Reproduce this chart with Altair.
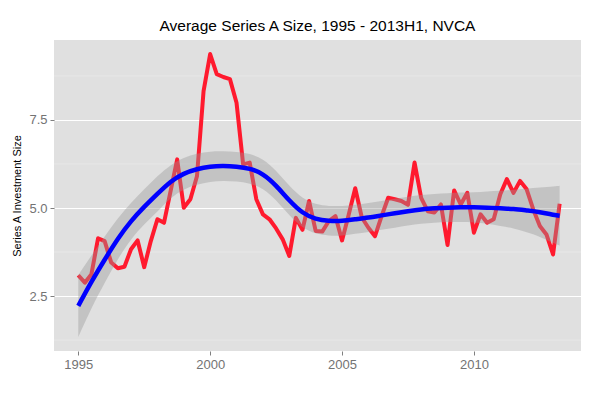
import altair as alt
import pandas as pd

# Quarterly average Series A size (red line), Q1 1995 .. Q2 2013
start_year = 1995
red_values = [3.09, 2.88, 3.12, 4.14, 4.06, 3.45, 3.29, 3.33, 3.83, 4.08,
              3.32, 4.06, 4.68, 4.58, 5.48, 6.38, 5.01, 5.25, 5.90, 8.32,
              9.37, 8.80, 8.72, 8.66, 7.99, 6.24, 6.29, 5.25, 4.82, 4.68,
              4.42, 4.11, 3.64, 4.72, 4.38, 5.20, 4.35, 4.33, 4.63, 4.77,
              4.08, 4.80, 5.56, 4.73, 4.44, 4.20, 4.77, 5.29, 5.25, 5.20,
              5.09, 6.29, 5.29, 4.91, 4.87, 5.10, 3.95, 5.50, 5.10, 5.43,
              4.30, 4.82, 4.58, 4.68, 5.39, 5.82, 5.43, 5.77, 5.53, 4.96,
              4.49, 4.25, 3.68, 5.12]
red_years = [start_year + 0.25 * i for i in range(len(red_values))]

# Smoothed trend (blue) and its confidence band (grey)
smooth_x = [1995.0, 1995.5, 1996.0, 1996.5, 1997.0, 1997.5, 1998.0, 1998.5,
            1999.0, 1999.5, 2000.0, 2000.5, 2001.0, 2001.5, 2002.0, 2002.5,
            2003.0, 2003.5, 2004.0, 2004.5, 2005.0, 2005.5, 2006.0, 2006.5,
            2007.0, 2007.5, 2008.0, 2008.5, 2009.0, 2009.5, 2010.0, 2010.5,
            2011.0, 2011.5, 2012.0, 2012.5, 2013.0, 2013.25]
smooth_y = [2.22, 2.90, 3.53, 4.12, 4.62, 5.03, 5.40, 5.74,
            5.97, 6.10, 6.17, 6.19, 6.17, 6.11, 5.95, 5.63,
            5.22, 4.88, 4.70, 4.64, 4.64, 4.68, 4.73, 4.79,
            4.85, 4.91, 4.96, 4.99, 5.01, 5.02, 5.02, 5.01,
            4.99, 4.97, 4.93, 4.88, 4.81, 4.78]
smooth_lo = [1.34, 2.15, 2.87, 3.54, 4.10, 4.53, 4.90, 5.27,
             5.52, 5.66, 5.74, 5.77, 5.75, 5.69, 5.53, 5.21,
             4.80, 4.46, 4.28, 4.22, 4.22, 4.27, 4.32, 4.38,
             4.44, 4.50, 4.55, 4.58, 4.60, 4.60, 4.59, 4.55,
             4.49, 4.42, 4.31, 4.18, 4.01, 3.93]
smooth_hi = [3.10, 3.65, 4.19, 4.70, 5.14, 5.53, 5.90, 6.21,
             6.42, 6.54, 6.60, 6.61, 6.59, 6.53, 6.37, 6.05,
             5.64, 5.30, 5.12, 5.06, 5.06, 5.09, 5.14, 5.20,
             5.26, 5.32, 5.37, 5.40, 5.42, 5.44, 5.45, 5.47,
             5.49, 5.52, 5.55, 5.58, 5.61, 5.63]

x_ticks = [1995, 2000, 2005, 2010]
y_ticks = [2.5, 5.0, 7.5]
y_minor = [1.25, 3.75, 6.25, 8.75]

x_domain = [1994.08, 2014.06]
y_domain = [0.94, 9.77]

red_df = pd.DataFrame({"year": red_years, "value": red_values})
smooth_df = pd.DataFrame({"year": smooth_x, "fit": smooth_y,
                          "lo": smooth_lo, "hi": smooth_hi})
minor_df = pd.DataFrame({"v": y_minor})

FONT = "Liberation Sans"

xscale = alt.Scale(domain=x_domain, nice=False, zero=False)
yscale = alt.Scale(domain=y_domain, nice=False, zero=False)

xaxis = alt.Axis(values=x_ticks, format="d", title=None, grid=False,
                 domain=False, tickColor="#7F7F7F", tickSize=4,
                 labelColor="#737373", labelFontSize=13, labelFont=FONT,
                 labelPadding=3)
yaxis = alt.Axis(values=y_ticks, format=".1f", title="Series A Investment Size",
                 grid=True, gridColor="#FFFFFF", gridWidth=1.2,
                 domain=False, tickColor="#7F7F7F", tickSize=4,
                 labelColor="#737373", labelFontSize=13, labelFont=FONT,
                 labelPadding=3, titleFont=FONT, titleFontSize=11,
                 titleFontWeight="normal", titleColor="#000000",
                 titlePadding=6)

minor = alt.Chart(minor_df).mark_rule(color="#EAEAEA", strokeWidth=0.8).encode(
    y=alt.Y("v:Q", scale=yscale, axis=yaxis)
)

red = alt.Chart(red_df).mark_line(color="#FF1A2E", strokeWidth=4,
                                  strokeJoin="round").encode(
    x=alt.X("year:Q", scale=xscale, axis=xaxis),
    y=alt.Y("value:Q", scale=yscale, axis=yaxis),
)

band = alt.Chart(smooth_df).mark_area(color="#999999", opacity=0.4,
                                      interpolate="natural").encode(
    x=alt.X("year:Q", scale=xscale, axis=xaxis),
    y=alt.Y("lo:Q", scale=yscale, axis=yaxis),
    y2="hi:Q",
)

blue = alt.Chart(smooth_df).mark_line(color="#0000FF", strokeWidth=4.5,
                                      interpolate="natural").encode(
    x=alt.X("year:Q", scale=xscale, axis=xaxis),
    y=alt.Y("fit:Q", scale=yscale, axis=yaxis),
)

chart = alt.layer(minor, red, band, blue).properties(
    width=527,
    height=311,
    title=alt.TitleParams("Average Series A Size, 1995 - 2013H1, NVCA",
                          font=FONT, fontSize=15.5, fontWeight="normal",
                          color="#000000", anchor="middle", offset=6),
    autosize=alt.AutoSizeParams(type="none"),
    padding={"left": 46, "top": 32, "right": 11, "bottom": 36},
    background="#FFFFFF",
).configure_view(fill="#E0E0E0", strokeWidth=0)

chart.save("out.html", embed_options={"renderer": "svg", "actions": False})
